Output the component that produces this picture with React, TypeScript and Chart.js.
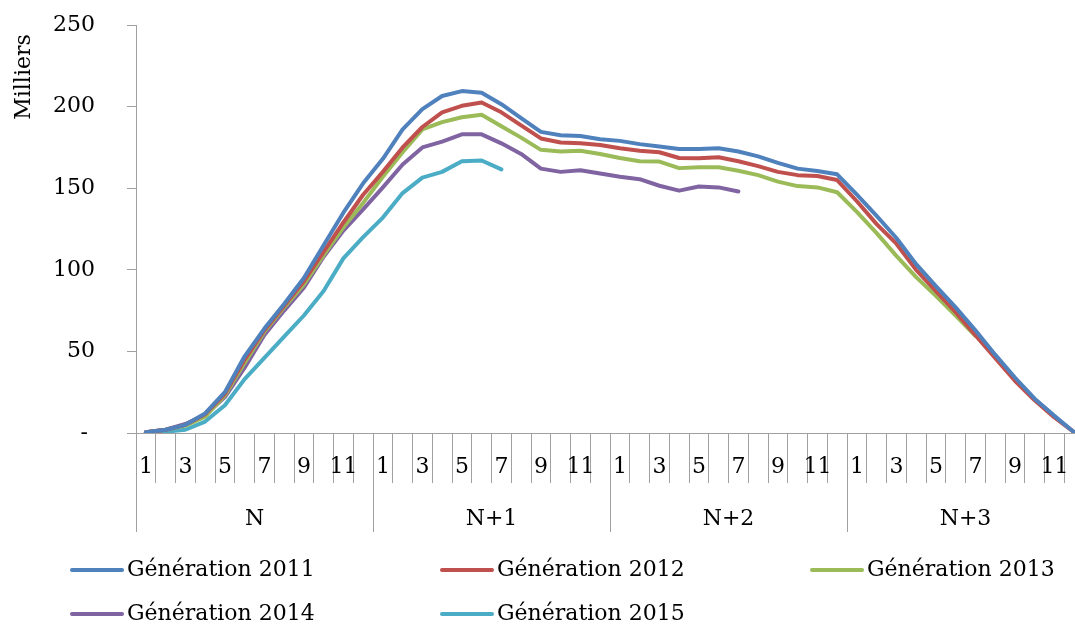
import React, { useEffect, useRef } from 'react';
import { Chart, registerables } from 'chart.js';

Chart.register(...registerables);

const YEARS = ['N', 'N+1', 'N+2', 'N+3'];
const MONTH_LABELS = ['1', '2', '3', '4', '5', '6', '7', '8', '9', '10', '11', '12'];
const CATEGORIES = YEARS.flatMap(() => MONTH_LABELS);

const Y_TICKS = [0, 50, 100, 150, 200, 250];
const Y_TITLE = 'Milliers';

const SERIES_NAMES = [
  'Génération 2011',
  'Génération 2012',
  'Génération 2013',
  'Génération 2014',
  'Génération 2015',
];

const GEN_2011 = [
  0.5, 2, 5, 12, 25, 47, 64, 79, 95, 115, 135, 153,
  168, 186, 198.5, 206.5, 209.5, 208.5, 201.5, 193, 184.5, 182.5, 182, 180,
  179, 177, 175.5, 174, 174, 174.5, 172.5, 169.5, 165.5, 162, 160.5, 158.5,
  146, 133, 119.5, 103.5, 90, 77, 63, 48, 34, 21, 10.5, 0.5,
];
const GEN_2012 = [
  0.5, 2, 5, 11.5, 24, 45, 63, 78, 93, 111, 129, 146,
  160, 175, 187.5, 196.5, 200.5, 202.5, 196.5, 188.5, 180.5, 178, 177.5, 176.5,
  174.5, 173, 172, 168.5, 168.3, 169, 166.5, 163.5, 160, 158, 157.5, 155,
  142, 128, 116, 100, 87, 74, 60, 46, 32, 20, 9.5, 0.5,
];
const GEN_2013 = [
  0.5, 2, 4.5, 10, 23, 43, 62, 77, 91, 109, 126, 141,
  157, 172, 186, 190.5, 193.5, 195, 188, 181, 173.5, 172.5, 173, 171,
  168.5, 166.5, 166.3, 162.3, 162.8, 162.8, 160.7, 158, 154, 151.3, 150.5, 147.5,
  135.5, 122.5, 108.5, 95.5, 84, 72, 59.5, null, null, null, null, null,
];
const GEN_2014 = [
  0.5, 2, 5.5, 11, 22, 40, 60, 75, 89, 108, 124, 137,
  150.5, 164.5, 175, 178.5, 183, 183, 177.5, 171, 162, 160, 161, 159,
  157, 155.5, 151.5, 148.5, 151, 150.5, 148, null, null, null, null, null,
  null, null, null, null, null, null, null, null, null, null, null, null,
];
const GEN_2015 = [
  0.3, 0.8, 2, 7, 17, 33, 46, 59, 72, 87, 107, 120,
  132, 147, 156.5, 160, 166.5, 167, 161.5, null, null, null, null, null,
  null, null, null, null, null, null, null, null, null, null, null, null,
  null, null, null, null, null, null, null, null, null, null, null, null,
];
const SERIES_VALUES = [GEN_2011, GEN_2012, GEN_2013, GEN_2014, GEN_2015];

const COLORS = ['#4F81BD', '#C0504D', '#9BBB59', '#8064A2', '#4BACC6'];
const GRAY = '#a0a0a0';
const FONT = 'DejaVu Serif';

const align = (p: number) => Math.round(p + 0.5) - 0.5;

const decorPlugin = {
  id: 'decor',
  afterDraw(chart: any) {
    const { ctx, chartArea } = chart;
    const x = chart.scales.x;
    const half = (x.getPixelForValue(1) - x.getPixelForValue(0)) / 2;
    ctx.save();
    // year separators
    ctx.strokeStyle = GRAY;
    ctx.lineWidth = 1;
    for (let k = 0; k <= YEARS.length; k++) {
      const bx = align(x.getPixelForValue(k * 12) - half);
      ctx.beginPath();
      ctx.moveTo(bx, chartArea.bottom);
      ctx.lineTo(bx, 532);
      ctx.stroke();
    }
    // year labels
    ctx.fillStyle = '#000';
    ctx.font = `22px "${FONT}"`;
    ctx.textAlign = 'center';
    ctx.textBaseline = 'middle';
    YEARS.forEach((yr, k) => {
      const cx = (x.getPixelForValue(k * 12) + x.getPixelForValue(k * 12 + 11)) / 2;
      ctx.fillText(yr, cx, 519);
    });
    // y title
    ctx.save();
    ctx.translate(24, 77);
    ctx.rotate(-Math.PI / 2);
    ctx.fillText(Y_TITLE, 0, 0);
    ctx.restore();
    // legend
    const cols = [70, 440, 810];
    const rows = [570, 614];
    ctx.textAlign = 'left';
    ctx.lineCap = 'round';
    SERIES_NAMES.forEach((name, i) => {
      const lx = cols[i % 3];
      const ly = rows[Math.floor(i / 3)];
      ctx.strokeStyle = COLORS[i];
      ctx.lineWidth = 4;
      ctx.beginPath();
      ctx.moveTo(lx + 2, ly);
      ctx.lineTo(lx + 52, ly);
      ctx.stroke();
      ctx.fillStyle = '#000';
      ctx.fillText(name, lx + 57, ly);
    });
    ctx.restore();
  },
};

export default function App() {
  const ref = useRef<HTMLCanvasElement | null>(null);

  useEffect(() => {
    if (!ref.current) return;
    Chart.defaults.font.family = FONT;
    Chart.defaults.color = '#000';
    const chart = new Chart(ref.current, {
      type: 'line',
      data: {
        labels: CATEGORIES,
        datasets: SERIES_NAMES.map((name, i) => ({
          label: name,
          data: SERIES_VALUES[i],
          borderColor: COLORS[i],
          backgroundColor: COLORS[i],
          borderWidth: 4,
          pointRadius: 0,
          pointHoverRadius: 0,
          tension: 0,
          fill: false,
          spanGaps: false,
          borderJoinStyle: 'round',
          borderCapStyle: 'round',
        })),
      },
      options: {
        responsive: false,
        animation: false,
        devicePixelRatio: 1,
        layout: { padding: { top: 25, right: 0, bottom: 0, left: 0 } },
        plugins: {
          legend: { display: false },
          tooltip: { enabled: false },
          title: { display: false },
        },
        scales: {
          x: {
            type: 'category',
            offset: true,
            grid: {
              offset: true,
              drawOnChartArea: false,
              drawTicks: true,
              tickLength: 50,
              color: GRAY,
            },
            border: { display: true, color: GRAY },
            ticks: {
              autoSkip: false,
              maxRotation: 0,
              minRotation: 0,
              padding: -29,
              font: { size: 22, family: FONT },
              color: '#000',
              callback: (_v: any, idx: number) => (idx % 2 === 0 ? CATEGORIES[idx] : ''),
            },
            afterFit: (scale: any) => {
              scale.height = 193;
            },
          },
          y: {
            type: 'linear',
            min: Y_TICKS[0],
            max: Y_TICKS[Y_TICKS.length - 1],
            afterBuildTicks: (scale: any) => {
              scale.ticks = Y_TICKS.map((v) => ({ value: v }));
            },
            grid: {
              drawOnChartArea: false,
              drawTicks: true,
              tickLength: 9,
              color: GRAY,
            },
            border: { display: true, color: GRAY },
            ticks: {
              padding: 32,
              font: { size: 22, family: FONT },
              color: '#000',
              callback: (v: any) => (v === 0 ? '- ' : String(v)),
            },
            afterFit: (scale: any) => {
              scale.width = 136;
              scale.paddingTop = 0;
              scale.paddingBottom = 0;
            },
          },
        },
      },
      plugins: [decorPlugin],
    });
    return () => chart.destroy();
  }, []);

  return (
    <div
      style={{
        position: 'fixed',
        left: 0,
        top: 0,
        width: 1075,
        height: 626,
        overflow: 'hidden',
        background: '#fff',
      }}
    >
      <canvas ref={ref} width={1084} height={626} style={{ display: 'block', width: 1084, height: 626 }} />
    </div>
  );
}
